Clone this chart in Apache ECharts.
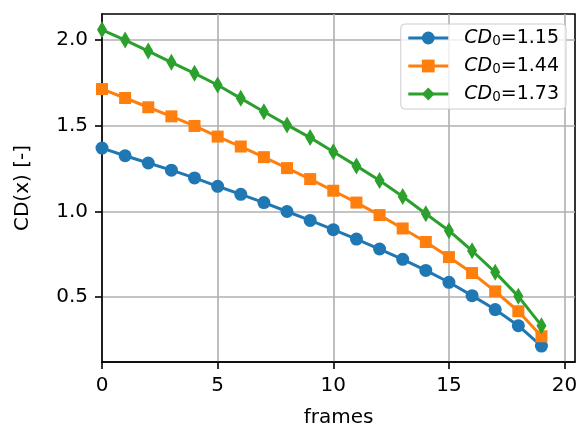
<!DOCTYPE html>
<html>
<head>
<meta charset="utf-8">
<script src="https://cdn.jsdelivr.net/npm/echarts@6/dist/echarts.min.js"></script>
<style>
  html, body { margin: 0; padding: 0; background: #fff; }
  #chart { width: 576px; height: 427px; }
</style>
</head>
<body>
<div id="chart"></div>
<script>
// Frame index along the x axis
const frames = [0, 1, 2, 3, 4, 5, 6, 7, 8, 9, 10, 11, 12, 13, 14, 15, 16, 17, 18, 19];

// CD(x) curves for three initial drag coefficients
const cd115 = [1.370, 1.325, 1.283, 1.241, 1.196, 1.147, 1.100, 1.052, 1.000, 0.948,
               0.894, 0.839, 0.781, 0.721, 0.656, 0.587, 0.509, 0.428, 0.334, 0.215];
const cd144 = [1.714, 1.662, 1.608, 1.555, 1.499, 1.437, 1.379, 1.317, 1.253, 1.189,
               1.121, 1.052, 0.979, 0.901, 0.822, 0.734, 0.641, 0.534, 0.418, 0.272];
const cd173 = [2.060, 2.000, 1.936, 1.870, 1.806, 1.738, 1.660, 1.582, 1.505, 1.431,
               1.349, 1.266, 1.181, 1.087, 0.987, 0.888, 0.771, 0.645, 0.505, 0.334];

const seriesNames = ['CD0=1.15', 'CD0=1.44', 'CD0=1.73'];
const xTicks = [0, 5, 10, 15, 20];
const yTicks = [0.5, 1.0, 1.5, 2.0];

const FONT = 'DejaVu Sans';
const pairs = ys => frames.map((f, i) => [f, ys[i]]);

// narrow diamond marker (0.6 : 1 aspect)
const THIN_DIAMOND = 'path://M0,-10L6,0L0,10L-6,0Z';

const chart = echarts.init(document.getElementById('chart'), null, { renderer: 'canvas' });

const axisCommon = {
  type: 'value',
  axisLine: { show: true, onZero: false, lineStyle: { color: '#000', width: 1.6 } },
  axisTick: { show: true, inside: false, length: 7, lineStyle: { color: '#000', width: 1.6 } },
  splitLine: { show: true, lineStyle: { color: '#b0b0b0', width: 1.6 } },
  nameLocation: 'middle',
  nameTextStyle: { fontFamily: FONT, fontSize: 20, color: '#000' }
};

chart.setOption({
  animation: false,
  backgroundColor: '#fff',
  grid: {
    left: 102, right: 1, top: 14, bottom: 65,
    outerBoundsMode: 'none',
    containLabel: false,
    show: true, borderColor: '#000', borderWidth: 1.6, backgroundColor: 'transparent'
  },
  xAxis: Object.assign({}, axisCommon, {
    min: 0, max: 20.45,
    name: 'frames', nameGap: 46,
    axisTick: Object.assign({}, axisCommon.axisTick, { customValues: xTicks }),
    axisLabel: {
      customValues: xTicks, margin: 14,
      fontFamily: FONT, fontSize: 20, color: '#000',
      formatter: v => String(v)
    }
  }),
  yAxis: Object.assign({}, axisCommon, {
    min: 0.122, max: 2.152,
    name: 'CD(x) [-]', nameGap: 69, nameRotate: 90,
    axisTick: Object.assign({}, axisCommon.axisTick, { customValues: yTicks }),
    axisLabel: {
      customValues: yTicks, margin: 14,
      fontFamily: FONT, fontSize: 20, color: '#000',
      formatter: v => v.toFixed(1)
    }
  }),
  legend: {
    orient: 'vertical',
    right: 10, top: 24,
    padding: [4, 7, 5, 6],
    itemWidth: 40, itemHeight: 16, itemGap: 8,
    backgroundColor: 'rgba(255,255,255,0.8)',
    borderColor: '#cccccc', borderWidth: 1, borderRadius: 4,
    lineStyle: { width: 3 },
    data: seriesNames,
    formatter: name => {
      const val = name.split('=')[1];
      return '{i|CD}{s|0}{n|=' + val + '}';
    },
    textStyle: {
      fontFamily: FONT, fontSize: 19, color: '#000', padding: [0, 0, 0, 11],
      rich: {
        i: { fontFamily: FONT, fontSize: 19, lineHeight: 20, fontStyle: 'italic', color: '#000' },
        s: { fontFamily: FONT, fontSize: 13.5, lineHeight: 14, color: '#000', padding: [6, 0, 0, 0] },
        n: { fontFamily: FONT, fontSize: 19, lineHeight: 20, color: '#000' }
      }
    }
  },
  series: [
    {
      name: seriesNames[0], type: 'line', data: pairs(cd115),
      symbol: 'circle', symbolSize: 13, showSymbol: true,
      lineStyle: { width: 3, color: '#1f77b4' }, itemStyle: { color: '#1f77b4' }, z: 3
    },
    {
      name: seriesNames[1], type: 'line', data: pairs(cd144),
      symbol: 'rect', symbolSize: 12, showSymbol: true,
      lineStyle: { width: 3, color: '#ff7f0e' }, itemStyle: { color: '#ff7f0e' }, z: 4
    },
    {
      name: seriesNames[2], type: 'line', data: pairs(cd173),
      symbol: THIN_DIAMOND, symbolSize: [10, 17], showSymbol: true,
      lineStyle: { width: 3, color: '#2ca02c' }, itemStyle: { color: '#2ca02c' }, z: 5
    }
  ]
});
</script>
</body>
</html>
